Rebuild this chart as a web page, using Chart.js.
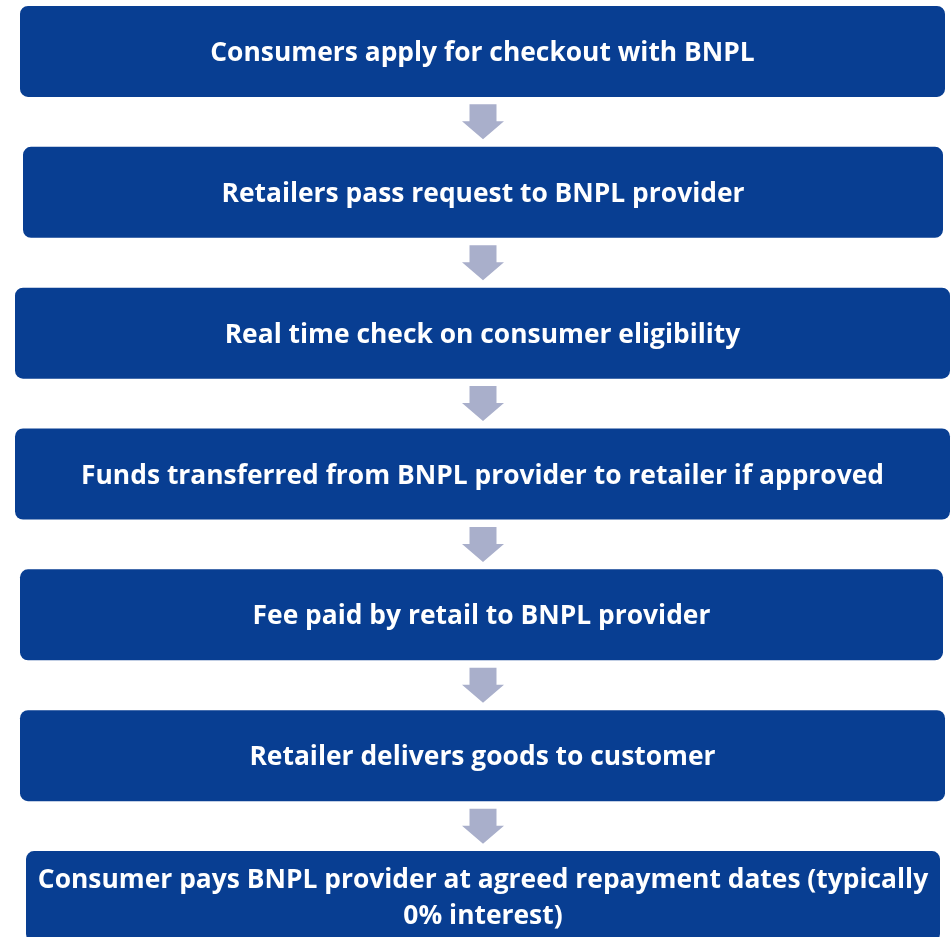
<!DOCTYPE html>
<html><head><meta charset="utf-8">
<script src="https://cdn.jsdelivr.net/npm/chart.js@4.4.1/dist/chart.umd.min.js"></script>
<style>
html,body{margin:0;padding:0;background:#fff;overflow:hidden;width:951px;height:937px;}
#wrap{position:absolute;left:0;top:-19px;width:951px;height:986px;}
</style></head><body>
<div id="wrap"><canvas id="c"></canvas></div>
<script>
// Flow steps (categories)
const steps = [
  "Consumers apply for checkout with BNPL",
  "Retailers pass request to BNPL provider",
  "Real time check on consumer eligibility",
  "Funds transferred from BNPL provider to retailer if approved",
  "Fee paid by retail to BNPL provider",
  "Retailer delivers goods to customer",
  ["Consumer pays BNPL provider at agreed repayment dates (typically", "0% interest)"]
];
// Horizontal extent of each step box (floating bar values)
const boxStart = [20, 23, 15, 15, 20, 20, 26];
const boxEnd   = [945, 943, 950, 950, 943, 945, 940];

const BOX_COLOR = '#083e92';
const ARROW_COLOR = '#a9afcb';
const TEXT_SCALE_X = 1.015;
const FONT = '700 26px "Open Sans", sans-serif';

const labelPlugin = {
  id: 'stepLabels',
  afterDatasetsDraw(chart) {
    const ctx = chart.ctx;
    const meta = chart.getDatasetMeta(0);
    ctx.save();
    ctx.fillStyle = '#ffffff';
    ctx.font = FONT;
    ctx.textAlign = 'center';
    ctx.textBaseline = 'alphabetic';
    meta.data.forEach((el, i) => {
      const lines = Array.isArray(steps[i]) ? steps[i] : [steps[i]];
      const cx = (el.x + el.base) / 2;
      const lh = 36;
      const y0 = el.y - (lines.length - 1) * lh / 2;
      lines.forEach((ln, k) => {
        ctx.save();
        ctx.translate(cx, y0 + k * lh + 9.5);
        ctx.scale(TEXT_SCALE_X, 1);
        ctx.fillText(ln, 0, 0);
        ctx.restore();
      });
    });
    ctx.restore();
  }
};

const arrowPlugin = {
  id: 'stepArrows',
  afterDatasetsDraw(chart) {
    const ctx = chart.ctx;
    const meta = chart.getDatasetMeta(0);
    const xs = chart.scales.x;
    const ax = xs.getPixelForValue(483);
    ctx.save();
    ctx.fillStyle = ARROW_COLOR;
    for (let i = 0; i < meta.data.length - 1; i++) {
      const a = meta.data[i], b = meta.data[i + 1];
      const top = a.y + a.height / 2;
      const bot = b.y - b.height / 2;
      const cy = (top + bot) / 2;
      ctx.beginPath();
      ctx.moveTo(ax - 13.5, cy - 17.5);
      ctx.lineTo(ax + 13.5, cy - 17.5);
      ctx.lineTo(ax + 13.5, cy - 0.5);
      ctx.lineTo(ax + 21, cy - 0.5);
      ctx.lineTo(ax, cy + 17.5);
      ctx.lineTo(ax - 21, cy - 0.5);
      ctx.lineTo(ax - 13.5, cy - 0.5);
      ctx.closePath();
      ctx.fill();
    }
    ctx.restore();
  }
};

new Chart(document.getElementById('c'), {
  type: 'bar',
  data: {
    labels: steps,
    datasets: [{
      data: steps.map((_, i) => [boxStart[i], boxEnd[i]]),
      backgroundColor: BOX_COLOR,
      borderColor: BOX_COLOR,
      borderWidth: 0,
      borderRadius: 8,
      borderSkipped: false,
      barPercentage: 0.646,
      categoryPercentage: 1
    }]
  },
  options: {
    indexAxis: 'y',
    responsive: true,
    maintainAspectRatio: false,
    animation: false,
    layout: { padding: 0 },
    plugins: { legend: { display: false }, tooltip: { enabled: false } },
    scales: {
      x: { type: 'linear', min: 0, max: 951, display: false },
      y: { type: 'category', display: false }
    }
  },
  plugins: [arrowPlugin, labelPlugin]
});
</script>
</body></html>
